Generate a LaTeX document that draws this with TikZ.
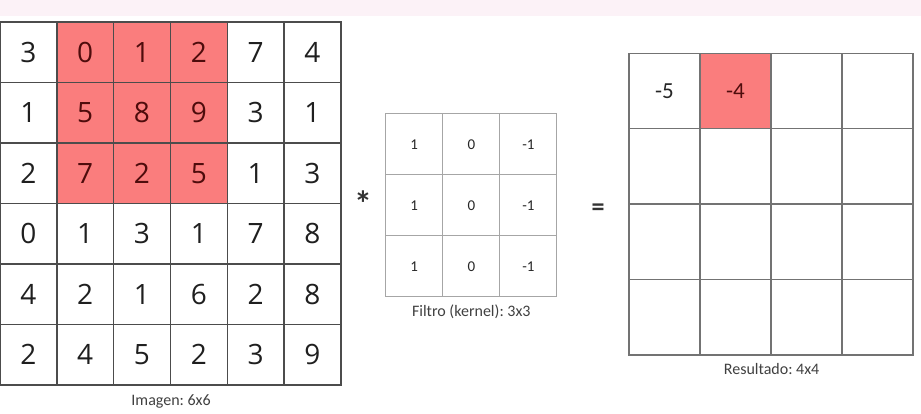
\documentclass[tikz,border=0pt]{standalone}
\usepackage{fontspec}
\setmainfont{Carlito}
\newfontfamily\digitfont{Open Sans}
\usepackage{xcolor}
\usetikzlibrary{positioning}
\frenchspacing

\definecolor{cellred}{HTML}{FA7D7D}
\definecolor{rednum}{HTML}{4E0C0C}
\definecolor{topband}{HTML}{FCF2F7}
\tikzstyle{imgcell} = [rectangle, minimum width=56.8pt, minimum height=60.5pt, inner sep=0pt,
draw=black!70, line width=1.4pt, text=black!88, font=\digitfont\fontsize{28}{28}\selectfont]
\tikzstyle{kercell} = [rectangle, minimum width=57.1pt, minimum height=60.9pt, inner sep=0pt,
draw=black!35, line width=1pt, text=black!85, font=\fontsize{15}{15}\selectfont]
\tikzstyle{rescell} = [rectangle, minimum width=71pt, minimum height=75.4pt, inner sep=0pt,
draw=black!55, line width=1.2pt, text=black!85, font=\fontsize{23}{23}\selectfont]
\tikzstyle{hot} = [fill=cellred, text=rednum]
\tikzstyle{cold} = []
\tikzstyle{caption} = [inner sep=0pt, anchor=north, text=black!75, font=\fontsize{16}{16}\selectfont]

\begin{document}
\begin{tikzpicture}[x=1pt, y=-1pt]
        \useasboundingbox (0,0) rectangle (921,414);
        \fill[topband] (0,0) rectangle (921,16);

        % Image 6x6, the window under the filter is filled red
        \foreach \row [count=\r] in {{3,0,1,2,7,4},{1,5,8,9,3,1},{2,7,2,5,1,3},
            {0,1,3,1,7,8},{4,2,1,6,2,8},{2,4,5,2,3,9}} {
            \foreach \v [count=\c] in \row {
                \pgfmathtruncatemacro\hotcell{(\r<4)&&(\c>1)&&(\c<5)}
                \ifnum\hotcell=1 \def\cellkind{hot}\else\def\cellkind{cold}\fi
                \node[imgcell, \cellkind] (img-\r-\c) at ({28.4+56.8*(\c-1)}, {52.25+60.5*(\r-1)}) {\v};
            }
        }
        \node[caption, below=9pt of img-6-3.south east] (imglabel) {Imagen: 6x6};

        % Filter 3x3
        \foreach \row [count=\r] in {{1,0,-1},{1,0,-1},{1,0,-1}} {
            \foreach \v [count=\c] in \row {
                \node[kercell] (ker-\r-\c) at ({414.2+57.1*(\c-1)}, {144.45+60.9*(\r-1)}) {\v};
            }
        }
        \node[caption, below=7pt of ker-3-2.south] (kerlabel) {Filtro (kernel): 3x3};

        % Operators
        \node[anchor=base, inner sep=0pt, text=black!80, font=\bfseries\fontsize{36}{36}\selectfont]
            (times) at (363,217) {*};
        \node[anchor=base, inner sep=0pt, text=black!80, font=\bfseries\fontsize{26}{26}\selectfont]
            (equals) at (598,216) {=};

        % Result 4x4
        \foreach \row [count=\r] in {{-5,-4,{},{}},{{},{},{},{}},{{},{},{},{}},{{},{},{},{}}} {
            \foreach \v [count=\c] in \row {
                \pgfmathtruncatemacro\hotcell{(\r==1)&&(\c==2)}
                \ifnum\hotcell=1 \def\cellkind{hot}\else\def\cellkind{cold}\fi
                \node[rescell, \cellkind] (res-\r-\c) at ({664.5+71*(\c-1)}, {91+75.4*(\r-1)}) {\v};
            }
        }
        \node[caption, below=8pt of res-4-2.south east] (reslabel) {Resultado: 4x4};
\end{tikzpicture}
\end{document}
